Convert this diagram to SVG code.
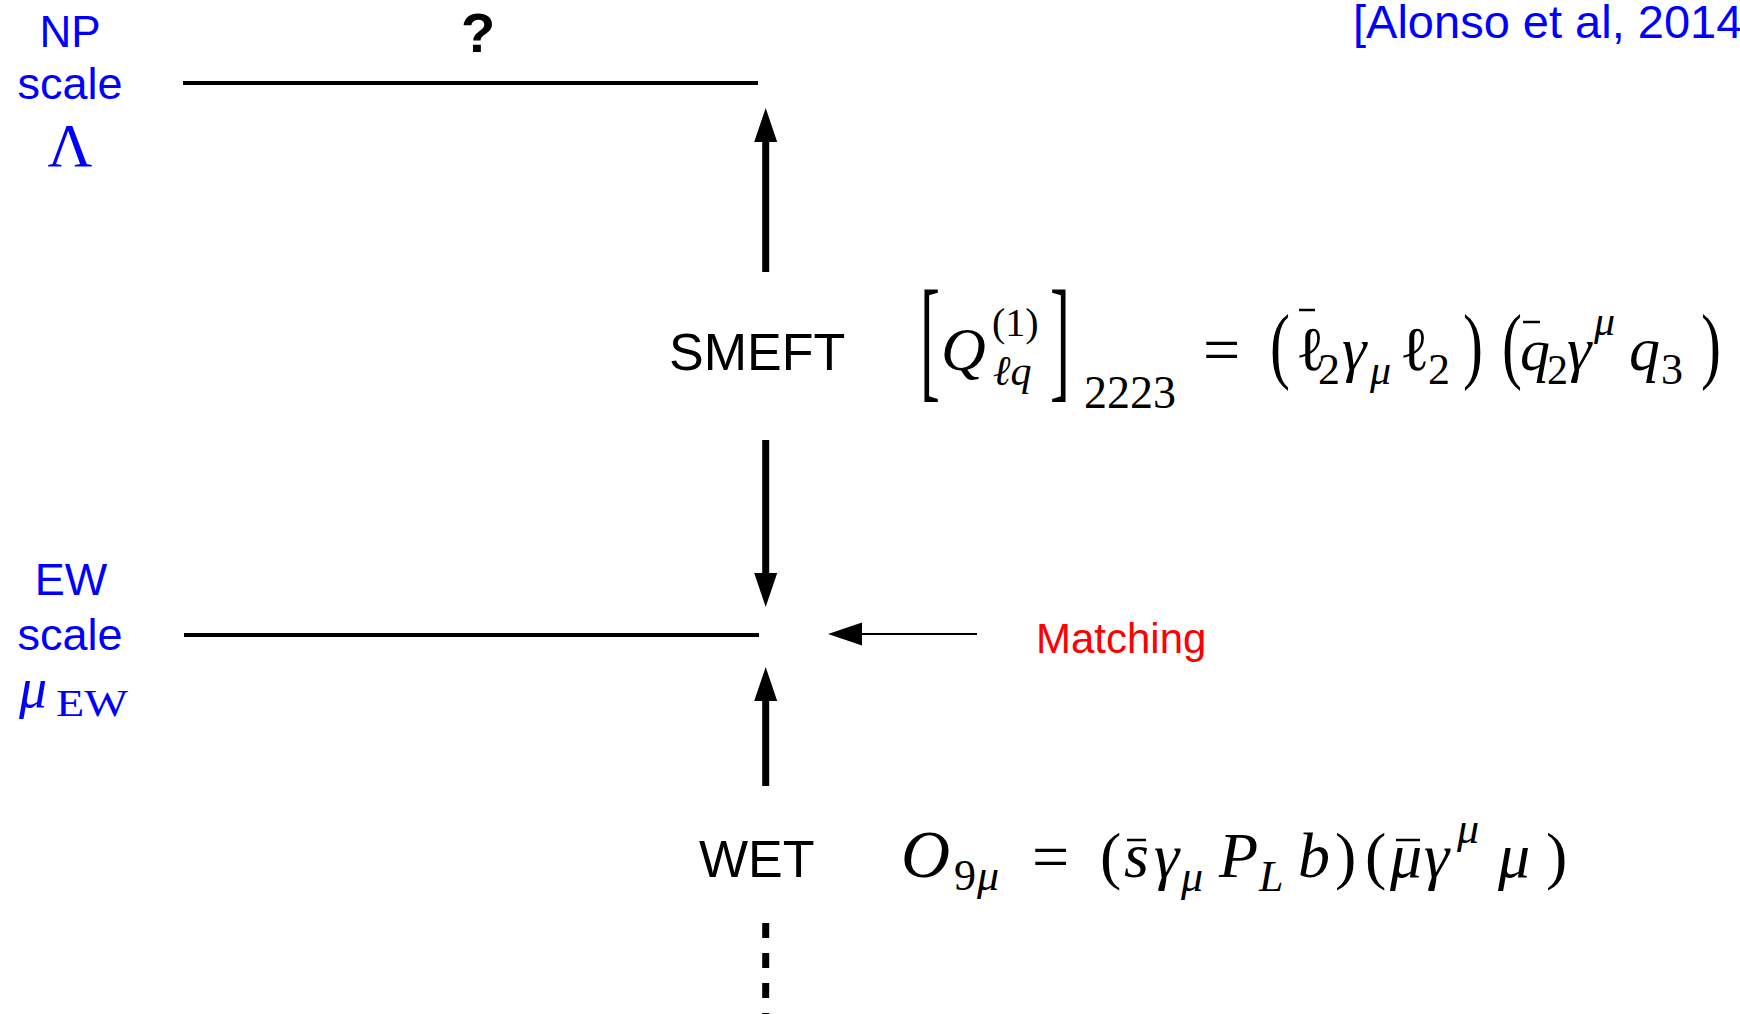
<svg xmlns="http://www.w3.org/2000/svg" width="1740" height="1014" viewBox="0 0 1740 1014">
<style>
.blue{fill:#0000ff;font-family:"Liberation Sans",Arial,sans-serif}
.sans{font-family:"Liberation Sans",Arial,sans-serif;fill:#000}
.m{font-family:"Liberation Serif","Times New Roman",serif;fill:#000}
.i{font-style:italic}
.lvl{stroke:#000;stroke-width:4;fill:none}
.shaft{stroke:#000;stroke-width:7;fill:none}
.bar{stroke:#000;stroke-width:2.5}
</style>
<defs>
<marker id="head" markerUnits="userSpaceOnUse" markerWidth="35" markerHeight="24" viewBox="0 0 35 24" refX="1" refY="12" orient="auto">
<path d="M0,0.5 L34,12 L0,23.5 z" fill="#000"/>
</marker>
<marker id="head2" markerUnits="userSpaceOnUse" markerWidth="35" markerHeight="24" viewBox="0 0 35 24" refX="1" refY="12" orient="auto">
<path d="M0,0.5 L34,12 L0,23.5 z" fill="#000"/>
</marker>
</defs>
<rect width="1740" height="1014" fill="#fff"/>

<g id="np-scale">
<text class="blue" x="70" y="47" font-size="44" text-anchor="middle">NP</text>
<text class="blue" x="70" y="99" font-size="45" text-anchor="middle">scale</text>
<text x="70" y="166" font-size="62" text-anchor="middle" fill="#0000ff" font-family="Liberation Serif,serif">Λ</text>
</g>
<g id="question">
<text class="sans" x="478" y="52" font-size="56" font-weight="bold" text-anchor="middle">?</text>
</g>
<g id="citation">
<text class="blue" x="1353" y="38" font-size="47">[Alonso et al, 2014</text>
</g>
<g id="ew-scale">
<text class="blue" x="71" y="595" font-size="45" text-anchor="middle">EW</text>
<text class="blue" x="70" y="650" font-size="45" text-anchor="middle">scale</text>
<text x="19" y="707" font-size="56" font-style="italic" fill="#0000ff" font-family="Liberation Serif,serif">μ</text>
<text x="56" y="716" font-size="38" fill="#0000ff" font-family="Liberation Serif,serif" textLength="72" lengthAdjust="spacingAndGlyphs">EW</text>
</g>
<g id="smeft">
<text class="sans" x="669" y="370" font-size="52">SMEFT</text>
</g>
<g id="smeft-operator">
<text class="m" transform="translate(920,384) scale(1,2.26)" font-size="60">[</text>
<text class="m i" x="941" y="370" font-size="62">Q</text>
<text class="m" x="992" y="336" font-size="40">(1)</text>
<text class="m i" x="993" y="385" font-size="42">ℓq</text>
<text class="m" transform="translate(1050,384) scale(1,2.26)" font-size="60">]</text>
<text class="m" x="1084" y="408" font-size="46">2223</text>
<text class="m" x="1203" y="372" font-size="66">=</text>
<text class="m" transform="translate(1270,373) scale(1,1.41)" font-size="60">(</text>
<text class="m" x="1296" y="370" font-size="62">ℓ</text>
<line class="bar" x1="1299" y1="310" x2="1315" y2="310"/>
<text class="m" x="1318" y="384" font-size="44">2</text>
<text class="m i" x="1342" y="370" font-size="62">γ</text>
<text class="m i" x="1370" y="384" font-size="42">μ</text>
<text class="m" x="1400" y="370" font-size="62">ℓ</text>
<text class="m" x="1428" y="384" font-size="44">2</text>
<text class="m" transform="translate(1463,373) scale(1,1.41)" font-size="60">)</text>
<text class="m" transform="translate(1502,373) scale(1,1.41)" font-size="60">(</text>
<text class="m i" x="1520" y="370" font-size="60">q</text>
<line class="bar" x1="1523" y1="322" x2="1540" y2="322"/>
<text class="m" x="1547" y="384" font-size="42">2</text>
<text class="m i" x="1567" y="370" font-size="62">γ</text>
<text class="m i" x="1594" y="335" font-size="42">μ</text>
<text class="m i" x="1629" y="370" font-size="62">q</text>
<text class="m" x="1661" y="384" font-size="44">3</text>
<text class="m" transform="translate(1701,373) scale(1,1.41)" font-size="60">)</text>
</g>
<g id="wet">
<text class="sans" x="699" y="877" font-size="52">WET</text>
</g>
<g id="wet-operator">
<text class="m i" x="901" y="877" font-size="68">O</text>
<text class="m" x="954" y="890" font-size="44">9</text>
<text class="m i" x="977" y="890" font-size="44">μ</text>
<text class="m" x="1032" y="879" font-size="66">=</text>
<text class="m" x="1100" y="877" font-size="64">(</text>
<text class="m i" x="1124" y="877" font-size="64">s</text>
<line class="bar" x1="1127" y1="840" x2="1146" y2="840"/>
<text class="m i" x="1154" y="877" font-size="64">γ</text>
<text class="m i" x="1181" y="891" font-size="44">μ</text>
<text class="m i" x="1219" y="877" font-size="64">P</text>
<text class="m i" x="1259" y="891" font-size="44">L</text>
<text class="m i" x="1298" y="877" font-size="64">b</text>
<text class="m" x="1335" y="877" font-size="64">)</text>
<text class="m" x="1365" y="877" font-size="64">(</text>
<text class="m i" x="1390" y="877" font-size="64">μ</text>
<line class="bar" x1="1396" y1="840" x2="1420" y2="840"/>
<text class="m i" x="1424" y="877" font-size="64">γ</text>
<text class="m i" x="1457" y="843" font-size="44">μ</text>
<text class="m i" x="1498" y="877" font-size="64">μ</text>
<text class="m" x="1546" y="877" font-size="64">)</text>
</g>
<g id="matching">
<text x="1036" y="653" font-size="42" fill="#ff0000" font-family="Liberation Sans,Arial,sans-serif">Matching</text>
</g>
<g id="connectors">
<line class="lvl" x1="183" y1="83" x2="758" y2="83"/>
<line class="lvl" x1="184" y1="635" x2="759" y2="635"/>
<line class="shaft" x1="765.7" y1="272" x2="765.7" y2="141" marker-end="url(#head)"/>
<line class="shaft" x1="765.7" y1="440" x2="765.7" y2="574" marker-end="url(#head)"/>
<line class="shaft" x1="765.7" y1="786" x2="765.7" y2="700" marker-end="url(#head)"/>
<line stroke="#000" stroke-width="2" x1="977" y1="634" x2="861" y2="634" marker-end="url(#head2)"/>
<line class="shaft" x1="765.7" y1="923" x2="765.7" y2="1014" stroke-dasharray="15 15"/>
</g>
</svg>
